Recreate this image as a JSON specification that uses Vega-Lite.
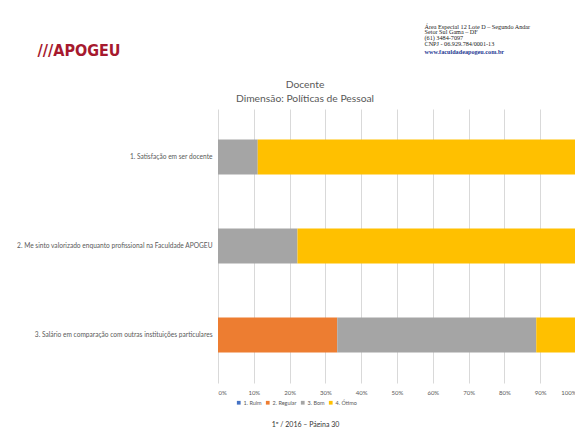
{
  "$schema": "https://vega.github.io/schema/vega-lite/v6.json",
  "width": 358,
  "height": 274,
  "autosize": {"type": "none"},
  "padding": {"left": 218, "top": 109, "right": 0, "bottom": 44},
  "background": "white",
  "config": {"font": "Lato", "view": {"stroke": null}},
  "title": {
    "text": "Docente",
    "subtitle": "Dimensão: Políticas de Pessoal",
    "fontSize": 10.3,
    "subtitleFontSize": 10.3,
    "fontWeight": "normal",
    "color": "#595959",
    "subtitleColor": "#595959",
    "anchor": "middle",
    "frame": "group",
    "dx": -92,
    "dy": 89,
    "offset": 8,
    "subtitlePadding": 3
  },
  "data": {
    "values": [
      {"item": "1. Satisfação em ser docente", "cat": "3. Bom", "pct": 11.1},
      {"item": "1. Satisfação em ser docente", "cat": "4. Ótimo", "pct": 88.9},
      {"item": "2. Me sinto valorizado enquanto profissional na Faculdade APOGEU", "cat": "3. Bom", "pct": 22.2},
      {"item": "2. Me sinto valorizado enquanto profissional na Faculdade APOGEU", "cat": "4. Ótimo", "pct": 77.8},
      {"item": "3. Salário em comparação com outras instituições particulares", "cat": "2. Regular", "pct": 33.3},
      {"item": "3. Salário em comparação com outras instituições particulares", "cat": "3. Bom", "pct": 55.6},
      {"item": "3. Salário em comparação com outras instituições particulares", "cat": "4. Ótimo", "pct": 11.1}
    ]
  },
  "resolve": {"axis": {"x": "independent", "y": "independent"}},
  "layer": [
    {
      "mark": {"type": "bar"},
      "encoding": {
        "y": {
          "field": "item",
          "type": "nominal",
          "sort": null,
          "scale": {"paddingInner": 0.607, "paddingOuter": 0.343},
          "axis": {
            "title": "///APOGEU",
            "titleAngle": 0,
            "titleAlign": "left",
            "titleBaseline": "alphabetic",
            "titleX": -181,
            "titleY": -54,
            "titleFont": "DejaVu Sans Condensed",
            "titleFontWeight": "bold",
            "titleFontSize": 16,
            "titleColor": "#A6192E",
            "labelFontSize": 6.6,
            "labelColor": "#595959",
            "labelLimit": 300,
            "labelPadding": 6,
            "ticks": false,
            "domain": false
          }
        },
        "x": {
          "field": "pct",
          "type": "quantitative",
          "stack": "normalize",
          "scale": {"domain": [0, 1]},
          "axis": {
            "format": ".0%",
            "values": [0, 0.1, 0.2, 0.3, 0.4, 0.5, 0.6, 0.7, 0.8, 0.9, 1],
            "grid": true,
            "gridColor": "#D9D9D9",
            "domain": false,
            "ticks": false,
            "labelFontSize": 6,
            "labelColor": "#595959",
            "labelPadding": 6,
            "title": "1º / 2016 – Página 30",
            "titleFontSize": 7,
            "titleFontWeight": "normal",
            "titleColor": "#333333",
            "titleAlign": "center",
            "titleBaseline": "middle",
            "titleX": 87,
            "titleY": 41
          }
        },
        "color": {
          "field": "cat",
          "type": "nominal",
          "scale": {
            "domain": ["1. Ruim", "2. Regular", "3. Bom", "4. Ótimo"],
            "range": ["#4472C4", "#ED7D31", "#A5A5A5", "#FFC000"]
          },
          "legend": {
            "orient": "none",
            "legendX": 18,
            "legendY": 291,
            "direction": "horizontal",
            "columns": 4,
            "gridAlign": "none",
            "title": null,
            "symbolType": "square",
            "symbolSize": 14,
            "symbolStrokeWidth": 0,
            "labelFontSize": 5.5,
            "labelColor": "#595959",
            "labelOffset": 2,
            "columnPadding": 3
          }
        },
        "order": {"field": "cat", "type": "ordinal"}
      }
    },
    {
      "mark": {"type": "bar", "opacity": 0},
      "encoding": {
        "y": {
          "field": "item",
          "type": "nominal",
          "sort": null,
          "axis": {
            "orient": "right",
            "labels": false,
            "ticks": false,
            "domain": false,
            "grid": false,
            "title": "www.faculdadeapogeu.com.br",
            "titleAngle": 0,
            "titleAlign": "left",
            "titleBaseline": "middle",
            "titleX": -152,
            "titleY": -58,
            "titleFont": "Liberation Serif",
            "titleFontSize": 6.2,
            "titleFontWeight": "bold",
            "titleColor": "#1F3A93"
          }
        },
        "x": {
          "field": "pct",
          "type": "quantitative",
          "stack": "normalize",
          "axis": {
            "orient": "top",
            "labels": false,
            "ticks": false,
            "domain": false,
            "grid": false,
            "title": ["Área Especial 12 Lote D – Segundo Andar", "Setor Sul Gama – DF", "(61) 3484-7097", "CNPJ - 06.929.784/0001-13"],
            "titleFont": "Liberation Serif",
            "titleFontSize": 6.2,
            "titleFontWeight": "normal",
            "titleColor": "#222222",
            "titleAlign": "left",
            "titleBaseline": "top",
            "titleLineHeight": 5.8,
            "titleX": 206,
            "titleY": -86
          }
        }
      }
    }
  ]
}
